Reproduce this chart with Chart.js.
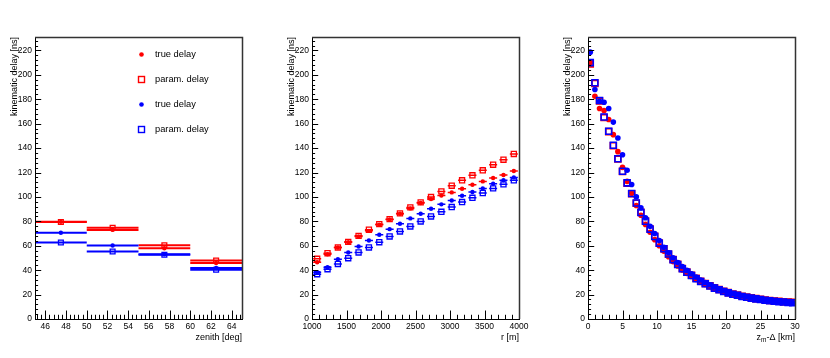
<!DOCTYPE html>
<html>
<head>
<meta charset="utf-8">
<script src="https://cdn.jsdelivr.net/npm/chart.js@4.4.1/dist/chart.umd.min.js"></script>
<style>
  html, body { margin: 0; padding: 0; background: #fff; }
  .pad { position: absolute; top: 0; width: 277px; height: 358px; }
</style>
</head>
<body>
<div class="pad" style="left:0"><canvas id="zenithChart" width="277" height="358"></canvas></div>
<div class="pad" style="left:277px"><canvas id="radiusChart" width="277" height="358"></canvas></div>
<div class="pad" style="left:553px"><canvas id="heightChart" width="277" height="358"></canvas></div>
<script>
// series order everywhere: red true, red param, blue true, blue param
const legendLabels = ['true delay', 'param. delay', 'true delay', 'param. delay'];
const seriesColors = ['#ff0000', '#ff0000', '#0000ff', '#0000ff'];
const seriesStyles = ['circle', 'rect', 'circle', 'rect'];

const yTicks = [0, 20, 40, 60, 80, 100, 120, 140, 160, 180, 200, 220];
const yTitle = 'kinematic delay [ns]';

// panel 1: zenith bins
const zenithEdges = [45, 50, 55, 60, 65];
const zenithCenters = [47.5, 52.5, 57.5, 62.5];
const zenithTicks = [46, 48, 50, 52, 54, 56, 58, 60, 62, 64];
const zenithRedTrue = [79.6, 73.0, 58.0, 45.9];
const zenithRedParam = [79.4, 74.8, 60.4, 47.9];
const zenithBlueTrue = [70.6, 60.2, 53.1, 41.8];
const zenithBlueParam = [62.7, 55.3, 52.6, 40.4];

// panel 2: core distance bins
const radiusCenters = [1075, 1225, 1375, 1525, 1675, 1825, 1975, 2125, 2275, 2425,
  2575, 2725, 2875, 3025, 3175, 3325, 3475, 3625, 3775, 3925];
const radiusHalfWidth = 58;
const radiusTicks = [1000, 1500, 2000, 2500, 3000, 3500, 4000];
const radiusRedTrue = [46.5, 53.1, 58.6, 62.9, 67.6, 72.2, 77.2, 81.5, 86.2, 90.6,
  95.0, 98.2, 101.2, 103.7, 106.7, 110.0, 112.7, 115.5, 117.9, 121.2];
const radiusRedParam = [49.3, 53.9, 58.6, 63.2, 68.1, 73.1, 77.7, 81.8, 86.5, 91.4,
  95.5, 99.9, 104.5, 109.2, 113.6, 117.7, 121.8, 126.4, 130.5, 135.2];
const radiusBlueTrue = [38.3, 42.4, 49.0, 54.5, 59.4, 64.3, 69.0, 73.6, 78.0, 82.4,
  86.2, 90.3, 93.9, 97.1, 101.0, 104.0, 107.0, 110.8, 113.6, 116.0];
const radiusBlueParam = [36.7, 40.8, 45.1, 49.8, 54.5, 58.6, 62.9, 67.6, 71.7, 75.8,
  79.9, 84.0, 87.8, 91.7, 95.8, 99.3, 103.2, 107.0, 110.3, 113.6];

// panel 3: height bins
const heightCenters = [0.33, 1.00, 1.67, 2.33, 3.00, 3.67, 4.33, 5.00, 5.67, 6.33,
  7.00, 7.67, 8.33, 9.00, 9.67, 10.33, 11.00, 11.67, 12.33, 13.00,
  13.67, 14.33, 15.00, 15.67, 16.33, 17.00, 17.67, 18.33, 19.00, 19.67,
  20.33, 21.00, 21.67, 22.33, 23.00, 23.67, 24.33, 25.00, 25.67, 26.33,
  27.00, 27.67, 28.33, 29.00, 29.67];
const heightTicks = [0, 5, 10, 15, 20, 25, 30];
const heightRedTrue = [210, 182.5, 172.4, 170.8, 163.4, 151, 137.1, 124.2, 112.7, 103,
  93, 85, 77.5, 71, 65, 60, 55.5, 51, 47, 43.5,
  40.2, 37.3, 34.8, 32.4, 30.2, 28.3, 26.6, 25, 23.6, 22.4,
  21.3, 20.3, 19.4, 18.6, 17.9, 17.3, 16.8, 16.3, 15.9, 15.5,
  15.2, 14.9, 14.6, 14.4, 14.2];
const heightRedParam = [209, 193, 178.5, 165, 153.5, 142, 131, 120.8, 111.3, 102.6,
  94.8, 87.5, 80.2, 73.8, 67.8, 62.3, 57.5, 53, 48.8, 44.8,
  41.3, 38.4, 35.8, 33.3, 31, 29, 27.2, 25.6, 24.1, 22.8,
  21.6, 20.5, 19.6, 18.7, 18, 17.3, 16.7, 16.1, 15.6, 15.2,
  14.8, 14.5, 14.2, 13.9, 13.7];
const heightBlueTrue = [218.6, 188, 178.4, 177.6, 172.4, 161.3, 148.3, 134.6, 121.8, 110.2,
  100, 91, 83, 76, 70, 64.3, 58.8, 54.2, 50.2, 46.3,
  43, 39.8, 37, 34.4, 32, 29.9, 28, 26.3, 24.7, 23.3,
  22, 20.9, 19.9, 19, 18.2, 17.4, 16.7, 16.1, 15.6, 15.1,
  14.6, 14.2, 13.9, 13.6, 13.3];
const heightBlueParam = [210, 193.5, 179, 165.5, 153.8, 142.3, 131.3, 121, 111.5, 102.8,
  95, 87.2, 80, 73.6, 67.6, 62.1, 57.6, 53.2, 48.6, 44.6,
  41.2, 38.3, 35.6, 33, 30.8, 28.8, 27, 25.3, 23.9, 22.6,
  21.4, 20.3, 19.4, 18.5, 17.8, 17.1, 16.5, 15.9, 15.4, 15,
  14.6, 14.2, 13.9, 13.6, 13.3];

const fontFamily = '"Liberation Sans", Arial, sans-serif';
const tickFont = { family: fontFamily, size: 8.5 };

// ROOT-like frame with inward major/minor ticks
const rootFrame = {
  id: 'rootFrame',
  afterDatasetsDraw(chart) {
    const { ctx, chartArea: a, scales } = chart;
    ctx.save();
    ctx.strokeStyle = '#000';
    ctx.lineWidth = 1;
    const h = a.bottom - a.top, w = a.right - a.left;
    const drawAxis = (scale, horizontal) => {
      const minor = scale.options.minorStep;
      const majors = scale.ticks.map(t => t.value);
      const majorLen = horizontal ? 0.03 * h : 0.03 * w;
      let v = majors[0];
      while (v - minor >= scale.min - 1e-9) v -= minor;
      ctx.beginPath();
      for (; v <= scale.max + 1e-9; v += minor) {
        const isMajor = majors.some(m => Math.abs(m - v) < minor / 10);
        const len = isMajor ? majorLen : majorLen / 2;
        const p = Math.round(scale.getPixelForValue(v)) + 0.5;
        if (horizontal) {
          ctx.moveTo(p, a.bottom);
          ctx.lineTo(p, a.bottom - len);
        } else {
          ctx.moveTo(a.left, p);
          ctx.lineTo(a.left + len, p);
        }
      }
      ctx.stroke();
    };
    drawAxis(scales.x, true);
    drawAxis(scales.y, false);
    ctx.strokeRect(Math.round(a.left) + 0.5, Math.round(a.top) + 0.5, Math.round(w), Math.round(h));
    ctx.strokeStyle = '#333';
    ctx.lineWidth = 1.5;
    ctx.beginPath();
    ctx.moveTo(a.left, a.top + 0.5);
    ctx.lineTo(a.right + 0.5, a.top + 0.5);
    ctx.lineTo(a.right + 0.5, a.bottom);
    ctx.stroke();
    ctx.restore();
  }
};

// axis titles, right aligned like ROOT; parts may be subscripts
const rootTitles = {
  id: 'rootTitles',
  afterDraw(chart, args, opts) {
    const { ctx, chartArea: a } = chart;
    ctx.save();
    ctx.fillStyle = '#000';
    ctx.textBaseline = 'middle';
    const widthOf = parts => parts.reduce((s, p) => {
      ctx.font = (p.sub ? 6.5 : 9) + 'px ' + fontFamily;
      return s + ctx.measureText(p.t).width;
    }, 0);
    // x title
    let x = a.right - widthOf(opts.x);
    opts.x.forEach(p => {
      ctx.font = (p.sub ? 6.5 : 9) + 'px ' + fontFamily;
      ctx.textAlign = 'left';
      ctx.fillText(p.t, x, 337.5 + (p.sub ? 2.5 : 0));
      x += ctx.measureText(p.t).width;
    });
    // y title
    ctx.translate(14.5, a.top);
    ctx.rotate(-Math.PI / 2);
    ctx.font = '9px ' + fontFamily;
    ctx.textAlign = 'right';
    ctx.fillText(opts.y, 0, 0);
    ctx.restore();
  }
};

// legend drawn inside the first pad
const rootLegend = {
  id: 'rootLegend',
  afterDraw(chart, args, opts) {
    if (!opts.show) return;
    const { ctx } = chart;
    ctx.save();
    ctx.font = '9.3px ' + fontFamily;
    ctx.textBaseline = 'middle';
    ctx.textAlign = 'left';
    legendLabels.forEach((label, k) => {
      const y = 54.5 + k * 25;
      ctx.fillStyle = seriesColors[k];
      ctx.strokeStyle = seriesColors[k];
      if (seriesStyles[k] === 'circle') {
        ctx.beginPath();
        ctx.arc(141.5, y, 2.3, 0, Math.PI * 2);
        ctx.fill();
      } else {
        ctx.lineWidth = 1.4;
        ctx.strokeRect(138.5, y - 3, 6, 6);
      }
      ctx.fillStyle = '#000';
      ctx.fillText(label, 155, y);
    });
    ctx.restore();
  }
};

function makePanel(id, cfg) {
  const datasets = [];
  cfg.series.forEach((vals, k) => {
    const filled = seriesStyles[k] === 'circle';
    datasets.push({
      label: legendLabels[k],
      data: cfg.centers.map((x, i) => ({ x: x, y: vals[i] })),
      pointStyle: seriesStyles[k],
      pointRadius: filled ? cfg.dot : cfg.box,
      pointBackgroundColor: filled ? seriesColors[k] : 'rgba(0,0,0,0)',
      pointBorderColor: seriesColors[k],
      pointBorderWidth: filled ? 0 : cfg.boxLine,
      showLine: false,
      order: (4 - k) * 2
    });
    if (cfg.lo) {
      const seg = [];
      cfg.centers.forEach((x, i) => {
        seg.push({ x: cfg.lo[i], y: vals[i] }, { x: cfg.hi[i], y: vals[i] }, { x: cfg.hi[i], y: null });
      });
      datasets.push({
        data: seg,
        showLine: true,
        spanGaps: false,
        pointRadius: 0,
        borderColor: seriesColors[k],
        borderWidth: cfg.barWidth,
        order: (4 - k) * 2 + 1
      });
    }
  });

  new Chart(document.getElementById(id), {
    type: 'scatter',
    data: { datasets: datasets },
    plugins: [rootFrame, rootTitles, rootLegend],
    options: {
      responsive: false,
      animation: false,
      events: [],
      layout: { padding: { top: 37, right: 35, left: 0, bottom: 0 } },
      plugins: {
        legend: { display: false },
        tooltip: { enabled: false },
        rootTitles: { x: cfg.xTitle, y: yTitle },
        rootLegend: { show: !!cfg.legend }
      },
      scales: {
        x: {
          type: 'linear',
          min: cfg.xMin,
          max: cfg.xMax,
          minorStep: cfg.xMinor,
          afterBuildTicks: s => { s.ticks = cfg.xTicks.map(v => ({ value: v })); },
          afterFit: s => { s.height = 39; },
          grid: { display: false, drawTicks: false },
          border: { display: false },
          ticks: {
            font: tickFont, color: '#000', padding: 3, maxRotation: 0, autoSkip: false,
            callback: v => String(v)
          }
        },
        y: {
          type: 'linear',
          min: 0,
          max: 231,
          minorStep: 4,
          afterBuildTicks: s => { s.ticks = yTicks.map(v => ({ value: v })); },
          afterFit: s => { s.width = 35; },
          grid: { display: false, drawTicks: false },
          border: { display: false },
          ticks: { font: tickFont, color: '#000', padding: 3, autoSkip: false, callback: v => String(v) }
        }
      }
    }
  });
}

makePanel('zenithChart', {
  centers: zenithCenters,
  series: [zenithRedTrue, zenithRedParam, zenithBlueTrue, zenithBlueParam],
  lo: zenithEdges.slice(0, -1),
  hi: zenithEdges.slice(1),
  barWidth: 2,
  dot: 2.2, box: 3.4, boxLine: 1.3,
  xMin: 45, xMax: 65, xMinor: 0.4, xTicks: zenithTicks,
  xTitle: [{ t: 'zenith [deg]' }],
  legend: true
});

makePanel('radiusChart', {
  centers: radiusCenters,
  series: [radiusRedTrue, radiusRedParam, radiusBlueTrue, radiusBlueParam],
  lo: radiusCenters.map(r => r - radiusHalfWidth),
  hi: radiusCenters.map(r => r + radiusHalfWidth),
  barWidth: 1.5,
  dot: 2.2, box: 3.6, boxLine: 1.3,
  xMin: 1000, xMax: 4000, xMinor: 100, xTicks: radiusTicks,
  xTitle: [{ t: 'r [m]' }]
});

makePanel('heightChart', {
  centers: heightCenters,
  series: [heightRedTrue, heightRedParam, heightBlueTrue, heightBlueParam],
  dot: 2.8, box: 4.2, boxLine: 1.6,
  xMin: 0, xMax: 30, xMinor: 1, xTicks: heightTicks,
  xTitle: [{ t: 'z' }, { t: 'm', sub: true }, { t: '-\u0394 [km]' }]
});
</script>
</body>
</html>
